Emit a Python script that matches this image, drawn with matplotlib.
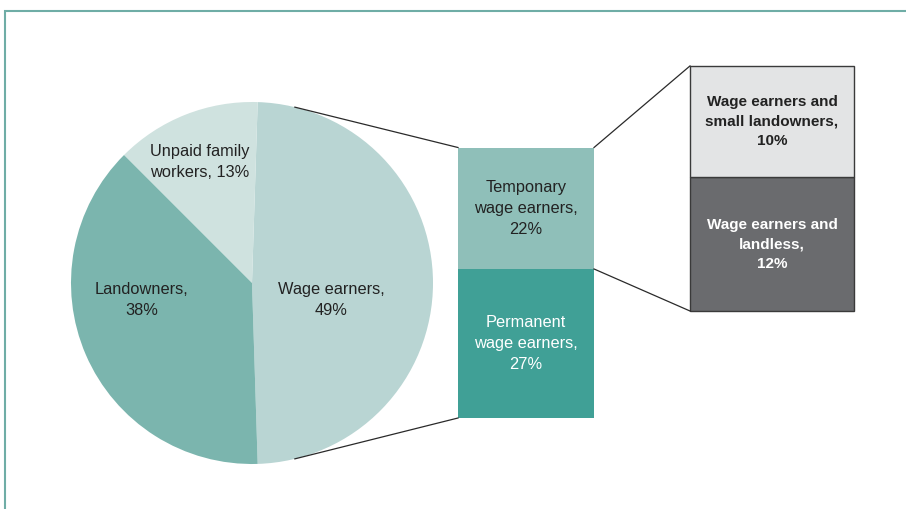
import matplotlib
matplotlib.use("Agg")
from matplotlib import pyplot as plt
from matplotlib.patches import Rectangle
import numpy as np

# pie: share of rural workers
pie_labels = ["Wage earners,\n49%", "Unpaid family\nworkers, 13%", "Landowners,\n38%"]
pie_values = [49, 13, 38]
pie_colors = ["#b9d5d3", "#cfe2df", "#7bb5ae"]

# middle bar: breakdown of wage earners
wage_labels = ["Permanent\nwage earners,\n27%", "Temponary\nwage earners,\n22%"]
wage_values = [27, 22]
wage_colors = ["#40a096", "#8fbfb9"]
wage_text = ["white", "#222222"]

# right bar: breakdown of temporary wage earners
temp_labels = ["Wage earners and\nlandless,\n12%", "Wage earners and\nsmall landowners,\n10%"]
temp_values = [12, 10]
temp_colors = ["#6a6b6e", "#e3e4e5"]
temp_text = ["white", "#222222"]

W, H = 906, 509


def main():
    plt.rcParams["font.family"] = ["Liberation Sans", "DejaVu Sans"]
    fig = plt.figure(figsize=(W / 100, H / 100), dpi=100)
    ax = fig.add_axes([0, 0, 1, 1])

    # frame
    ax.add_patch(Rectangle((5, -20), W + 20, H - 11 + 20, fill=False,
                           edgecolor="#6fada6", linewidth=1.5))

    # pie
    cx, cy, r = 252, H - 283, 181
    start = -pie_values[0] / 100 * 360 / 2
    ax.pie(pie_values, colors=pie_colors, startangle=start, counterclock=True,
           center=(cx, cy), radius=r, frame=True,
           wedgeprops=dict(linewidth=0))
    ax.set_xlim(0, W)
    ax.set_ylim(0, H)
    ax.set_aspect("equal")
    ax.axis("off")

    fs = 11.8
    ls = 1.5
    pie_pos = [(331, H - 300), (200, H - 162), (142, H - 300)]
    for lab, (x, y) in zip(pie_labels, pie_pos):
        ax.text(x, y, lab, ha="center", va="center", fontsize=fs,
                color="#222222", linespacing=ls)

    # middle bar
    s1 = 5.52
    mx, mw, mb = 526, 136, H - 418
    bottom = mb
    tops = []
    for v, c, lab, tc in zip(wage_values, wage_colors, wage_labels, wage_text):
        h = v * s1
        ax.bar(mx, h, width=mw, bottom=bottom, color=c, linewidth=0)
        ax.text(mx, bottom + h / 2, lab, ha="center", va="center",
                fontsize=fs, color=tc, linespacing=ls)
        bottom += h
        tops.append(bottom)

    # right bar
    s2 = 11.14
    rx, rw, rb = 772, 164, H - 311
    bottom2 = rb
    for v, c, lab, tc in zip(temp_values, temp_colors, temp_labels, temp_text):
        h = v * s2
        ax.bar(rx, h, width=rw, bottom=bottom2, color=c, edgecolor="#3a3a3a",
               linewidth=1.0)
        ax.text(rx, bottom2 + h / 2, lab, ha="center", va="center",
                fontsize=11, fontweight="bold", color=tc, linespacing=ls)
        bottom2 += h

    # connectors pie -> middle bar
    ang = np.deg2rad(76.3)
    lc = "#2a2a2a"
    ax.plot([cx + r * np.cos(ang), mx - mw / 2], [cy + r * np.sin(ang), tops[-1]],
            color=lc, lw=0.9)
    ax.plot([cx + r * np.cos(ang), mx - mw / 2], [cy - r * np.sin(ang), mb],
            color=lc, lw=0.9)

    # connectors middle bar -> right bar
    ax.plot([mx + mw / 2, rx - rw / 2], [tops[-1], bottom2], color=lc, lw=0.9)
    ax.plot([mx + mw / 2, rx - rw / 2], [tops[0], rb], color=lc, lw=0.9)

    fig.savefig("out.png", dpi=100)


if __name__ == "__main__":
    main()
